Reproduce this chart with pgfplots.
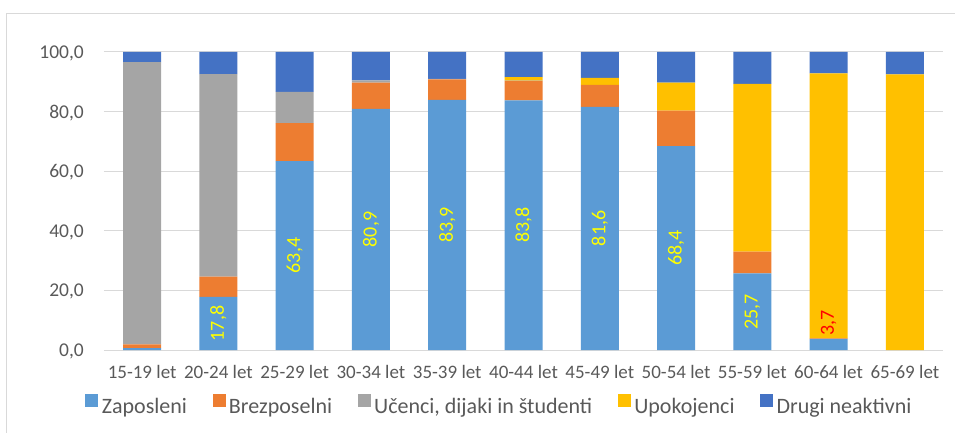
\documentclass[border=0pt]{standalone}
\usepackage{fontspec}
\setmainfont{Carlito}
\usepackage{pgfplots}
\pgfplotsset{compat=1.18}

\definecolor{zap}{HTML}{5B9BD5}
\definecolor{brez}{HTML}{ED7D31}
\definecolor{uc}{HTML}{A5A5A5}
\definecolor{upok}{HTML}{FFC000}
\definecolor{drugi}{HTML}{4472C4}
\definecolor{txt}{HTML}{595959}
\definecolor{grd}{HTML}{D9D9D9}

\begin{document}
\begin{tikzpicture}
\useasboundingbox (-104pt,-83pt) rectangle (851pt,350pt);
\draw[grd, line width=1pt] (-97pt,-90pt) -- (-97pt,336pt) -- (860pt,336pt);
\begin{axis}[
  at={(0pt,0pt)}, anchor=south west,
  scale only axis, width=839pt, height=298pt,
  ybar stacked, bar width=38pt,
  xmin=-0.5, xmax=10.5, ymin=0, ymax=100,
  xtick={0,...,10},
  xticklabels={15-19 let,20-24 let,25-29 let,30-34 let,35-39 let,40-44 let,45-49 let,50-54 let,55-59 let,60-64 let,65-69 let},
  ytick={0,20,...,100},
  axis line style={draw=none},
  major tick length=0pt,
  ymajorgrids, grid style={grd, line width=1pt},
  /pgf/number format/.cd, fixed, fixed zerofill, precision=1, use comma, assume math mode=true,
  /pgfplots/.cd,
  xticklabel style={font=\fontsize{19}{22}\selectfont, text=txt, anchor=base, inner sep=0pt, yshift=-28pt},
  yticklabel style={font=\fontsize{19.5}{22}\selectfont, text=txt, anchor=base east, inner sep=0pt, xshift=-20pt, yshift=-6.5pt},
  legend columns=-1,
  legend style={at={(0.471,-0.185)}, anchor=center, draw=none, fill=none,
    font=\fontsize{22}{25}\selectfont, text=txt,
    nodes={inner sep=1.5pt},
    /tikz/every odd column/.append style={column sep=2pt},
    /tikz/every even column/.append style={column sep=24pt}},
  legend image code/.code={\fill[#1] (0pt,-1pt) rectangle (13pt,12pt);},
]
% labels of stacked bars sit in the middle of the segment; only the small 3,7 is moved above
\addplot[fill=zap, draw=none,
  point meta=explicit symbolic,
  nodes near coords,
  visualization depends on={y \as \rawy},
  every node near coord/.append style={font=\fontsize{20}{22}\selectfont, text={rgb,255:red,255;green,255;blue,0},
    anchor=center, shift={(axis direction cs:0,{\rawy>5 ? 0 : 7.3})}, rotate=90}]
  coordinates {(0,0.6)[] (1,17.8)[17,8] (2,63.4)[63,4] (3,80.9)[80,9] (4,83.9)[83,9] (5,83.8)[83,8]
    (6,81.6)[81,6] (7,68.4)[68,4] (8,25.7)[25,7] (9,3.7)[\textcolor{red}{3,7}] (10,0)[]};
\addlegendentry{Zaposleni}
\addplot[fill=brez, draw=none]
  coordinates {(0,1.3) (1,6.8) (2,12.7) (3,8.8) (4,6.9) (5,6.5) (6,7.4) (7,11.9) (8,7.3) (9,0.2) (10,0)};
\addlegendentry{Brezposelni}
\addplot[fill=uc, draw=none]
  coordinates {(0,94.7) (1,68.0) (2,10.5) (3,0.8) (4,0.2) (5,0.1) (6,0) (7,0) (8,0) (9,0) (10,0)};
\addlegendentry{Učenci, dijaki in študenti}
\addplot[fill=upok, draw=none]
  coordinates {(0,0) (1,0) (2,0) (3,0) (4,0) (5,1.2) (6,2.3) (7,9.4) (8,56.3) (9,88.9) (10,92.5)};
\addlegendentry{Upokojenci}
\addplot[fill=drugi, draw=none]
  coordinates {(0,3.4) (1,7.4) (2,13.4) (3,9.5) (4,9.0) (5,8.4) (6,8.7) (7,10.3) (8,10.7) (9,7.2) (10,7.5)};
\addlegendentry{Drugi neaktivni}
\end{axis}
\end{tikzpicture}
\end{document}
